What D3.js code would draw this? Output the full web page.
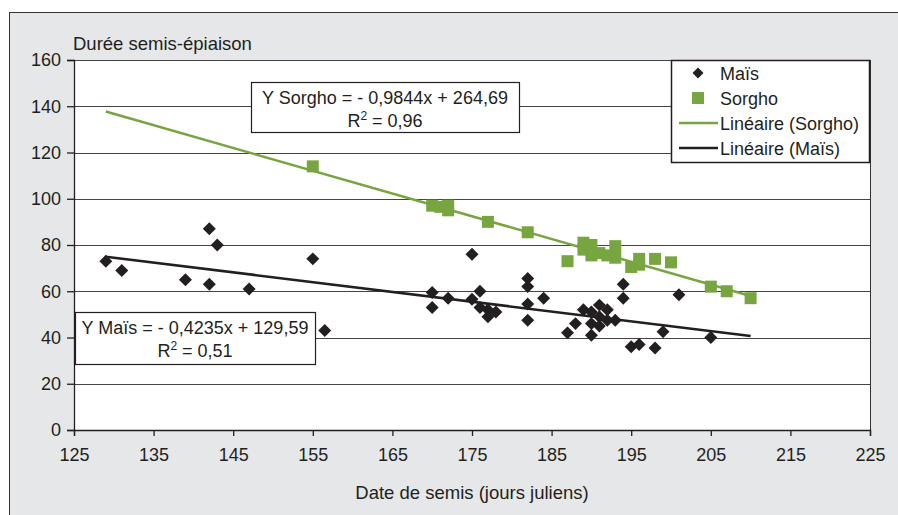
<!DOCTYPE html>
<html><head><meta charset="utf-8">
<script src="https://cdn.jsdelivr.net/npm/d3@7"></script>
<style>
body{margin:0;background:#fff;}
text{font-family:"Liberation Sans",Arial,Helvetica,sans-serif;fill:#231f20;}
</style></head>
<body><svg id="c" width="898" height="515"></svg>
<script>
const maisX = [129,131,139,142,143,142,147,155,156.5,170,170,172,175,175,176,176,177,177,178,182,182,182,182,184,187,188,189,190,190,190,191,191,191,192,192,193,194,194,195,196,198,199,201,205];
const maisY = [73,69,65,87,80,63,61,74,43,59.5,53,57,76,56.5,60,53,52,49,51,65.5,62,54.5,47.5,57,42,46,52,51,46,41,54,49,45,52,47.5,47.5,63,57,36,37,35.5,42.5,58.5,40];
const sorghoX = [155,170,171,172,172,177,182,187,189,189,190,190,191,192,193,193,195,196,196,198,200,205,207,210];
const sorghoY = [114,97,96.5,97,95,90,85.5,73,81,78,80,75.5,76.5,75.5,79.5,74.5,70.5,74,71.5,74,72.5,62,60,57];
const xTicks = [125,135,145,155,165,175,185,195,205,215,225];
const yTicks = [0,20,40,60,80,100,120,140,160];
const trendRange = [129,210];
const sorghoFit = {slope:-0.9844, intercept:264.69};
const maisFit = {slope:-0.4235, intercept:129.59};
const legendItems = ["Maïs","Sorgho","Linéaire (Sorgho)","Linéaire (Maïs)"];

const green = "#77a540", dark = "#231f20";
const svg = d3.select("#c");
const L=74,R=870,T=60,B=430;
const x = d3.scaleLinear().domain([125,225]).range([L,R]);
const y = d3.scaleLinear().domain([0,160]).range([B,T]);

svg.append("rect").attr("x",9.5).attr("y",12.5).attr("width",1000).attr("height",600)
  .attr("fill","#e6e7e8").attr("stroke","#333").attr("stroke-width",1);
svg.append("rect").attr("x",L).attr("y",T).attr("width",R-L).attr("height",B-T).attr("fill","#fff");

// gridlines
svg.append("g").selectAll("line").data(yTicks.filter(d=>d>0)).join("line")
  .attr("x1",L).attr("x2",R).attr("y1",d=>Math.round(y(d))+0.5).attr("y2",d=>Math.round(y(d))+0.5)
  .attr("stroke","#444").attr("stroke-width",1.1);
svg.append("line").attr("x1",R+0.5).attr("x2",R+0.5).attr("y1",T).attr("y2",B).attr("stroke","#333");

// axes
const ya = svg.append("g").attr("transform",`translate(${L},0)`)
  .call(d3.axisLeft(y).tickValues(yTicks).tickSize(7).tickPadding(6));
const xa = svg.append("g").attr("transform",`translate(0,${B})`)
  .call(d3.axisBottom(x).tickValues(xTicks).tickSize(6).tickPadding(12));
[ya,xa].forEach(a=>{a.selectAll("path,line").attr("stroke",dark).attr("stroke-width",1.3);
  a.selectAll("text").style("font-size","18px").style("font-family","'Liberation Sans',Arial,sans-serif").attr("fill",dark);});

svg.append("text").attr("x",73).attr("y",50).style("font-size","18.5px").text("Durée semis-épiaison");
svg.append("text").attr("x",(L+R)/2).attr("y",499).attr("text-anchor","middle").style("font-size","18.5px")
  .text("Date de semis (jours juliens)");

// trend lines
const fits=[[sorghoFit,green],[maisFit,dark]];
fits.forEach(([f,c])=>{
  svg.append("line").attr("x1",x(trendRange[0])).attr("y1",y(f.slope*trendRange[0]+f.intercept))
    .attr("x2",x(trendRange[1])).attr("y2",y(f.slope*trendRange[1]+f.intercept))
    .attr("stroke",c).attr("stroke-width",2.5);
});

// points
svg.append("g").selectAll("path").data(maisX.map((d,i)=>[d,maisY[i]])).join("path")
  .attr("d",d3.symbol(d3.symbolSquare,84))
  .attr("transform",d=>`translate(${x(d[0])},${y(d[1])}) rotate(45)`).attr("fill",dark);
svg.append("g").selectAll("rect").data(sorghoX.map((d,i)=>[d,sorghoY[i]])).join("rect")
  .attr("x",d=>x(d[0])-6).attr("y",d=>y(d[1])-6).attr("width",12).attr("height",12).attr("fill",green);

// equation boxes
function eqBox(x0,y0,w,h,l1,r2){
  const g=svg.append("g");
  g.append("rect").attr("x",x0+0.5).attr("y",y0+0.5).attr("width",w).attr("height",h).attr("fill","#fff").attr("stroke",dark).attr("stroke-width",1.2);
  g.append("text").attr("x",x0+w/2).attr("y",y0+22).attr("text-anchor","middle").style("font-size","18px").text(l1);
  const t=g.append("text").attr("x",x0+w/2).attr("y",y0+45).attr("text-anchor","middle").style("font-size","18px");
  t.append("tspan").text("R");
  t.append("tspan").attr("dy",-7).style("font-size","12px").text("2");
  t.append("tspan").attr("dy",7).text(" = "+r2);
}
eqBox(251,82,268,50,"Y Sorgho = - 0,9844x + 264,69","0,96");
eqBox(75,312,240,52,"Y Maïs = - 0,4235x + 129,59","0,51");

// legend
const lg=svg.append("g");
lg.append("rect").attr("x",671.5).attr("y",60.5).attr("width",198).attr("height",102).attr("fill","#fff").attr("stroke",dark).attr("stroke-width",1.5);
legendItems.forEach((t,i)=>{
  const cy=73+i*25;
  lg.append("text").attr("x",720).attr("y",cy+6.5).style("font-size","18px").text(t);
  if(i===0) lg.append("path").attr("d",d3.symbol(d3.symbolSquare,60)).attr("transform",`translate(698,${cy}) rotate(45)`).attr("fill",dark);
  else if(i===1) lg.append("rect").attr("x",692).attr("y",cy-6).attr("width",12).attr("height",12).attr("fill",green);
  else lg.append("line").attr("x1",679).attr("x2",718).attr("y1",cy).attr("y2",cy).attr("stroke",i===2?green:dark).attr("stroke-width",2.5);
});
</script></body></html>
